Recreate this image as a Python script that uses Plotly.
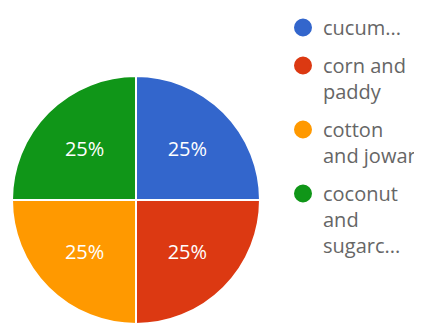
import plotly.graph_objects as go

labels = ["cucum...", "corn and<br>paddy", "cotton<br>and jowar", "coconut<br>and<br>sugarc..."]
values = [25, 25, 25, 25]
colors = ["#3366CC", "#DC3912", "#FF9900", "#109618"]

W, H = 414, 317  # page body has an 8px margin

fig = go.Figure()
fig.add_trace(go.Pie(
    labels=labels, values=values, sort=False, direction="clockwise", rotation=0,
    marker=dict(colors=colors, line=dict(color="white", width=2)),
    textinfo="percent", textposition="inside",
    textfont=dict(family="Open Sans", size=20, color="white"),
    insidetextorientation="horizontal",
    showlegend=False, hoverinfo="label+percent",
    domain=dict(x=[4/W, 252/W], y=[1/H, 249/H]),
))
for i, (lab, col) in enumerate(zip(labels, colors)):
    fig.add_trace(go.Scatter(
        x=[None], y=[None], mode="markers", name=lab, legendgroup=f"g{i}",
        marker=dict(color=col, size=16, line=dict(color=col, width=2)),
    ))

fig.update_layout(
    width=W, height=H, margin=dict(l=0, r=0, t=0, b=0),
    paper_bgcolor="white", plot_bgcolor="white",
    xaxis=dict(visible=False), yaxis=dict(visible=False),
    legend=dict(x=275/W, y=1.0, xanchor="left", yanchor="top",
                font=dict(family="Open Sans", size=20, color="#666666"),
                itemsizing="trace", tracegroupgap=9, valign="top",
                bgcolor="rgba(0,0,0,0)"),
)
fig.write_html("out.html")
